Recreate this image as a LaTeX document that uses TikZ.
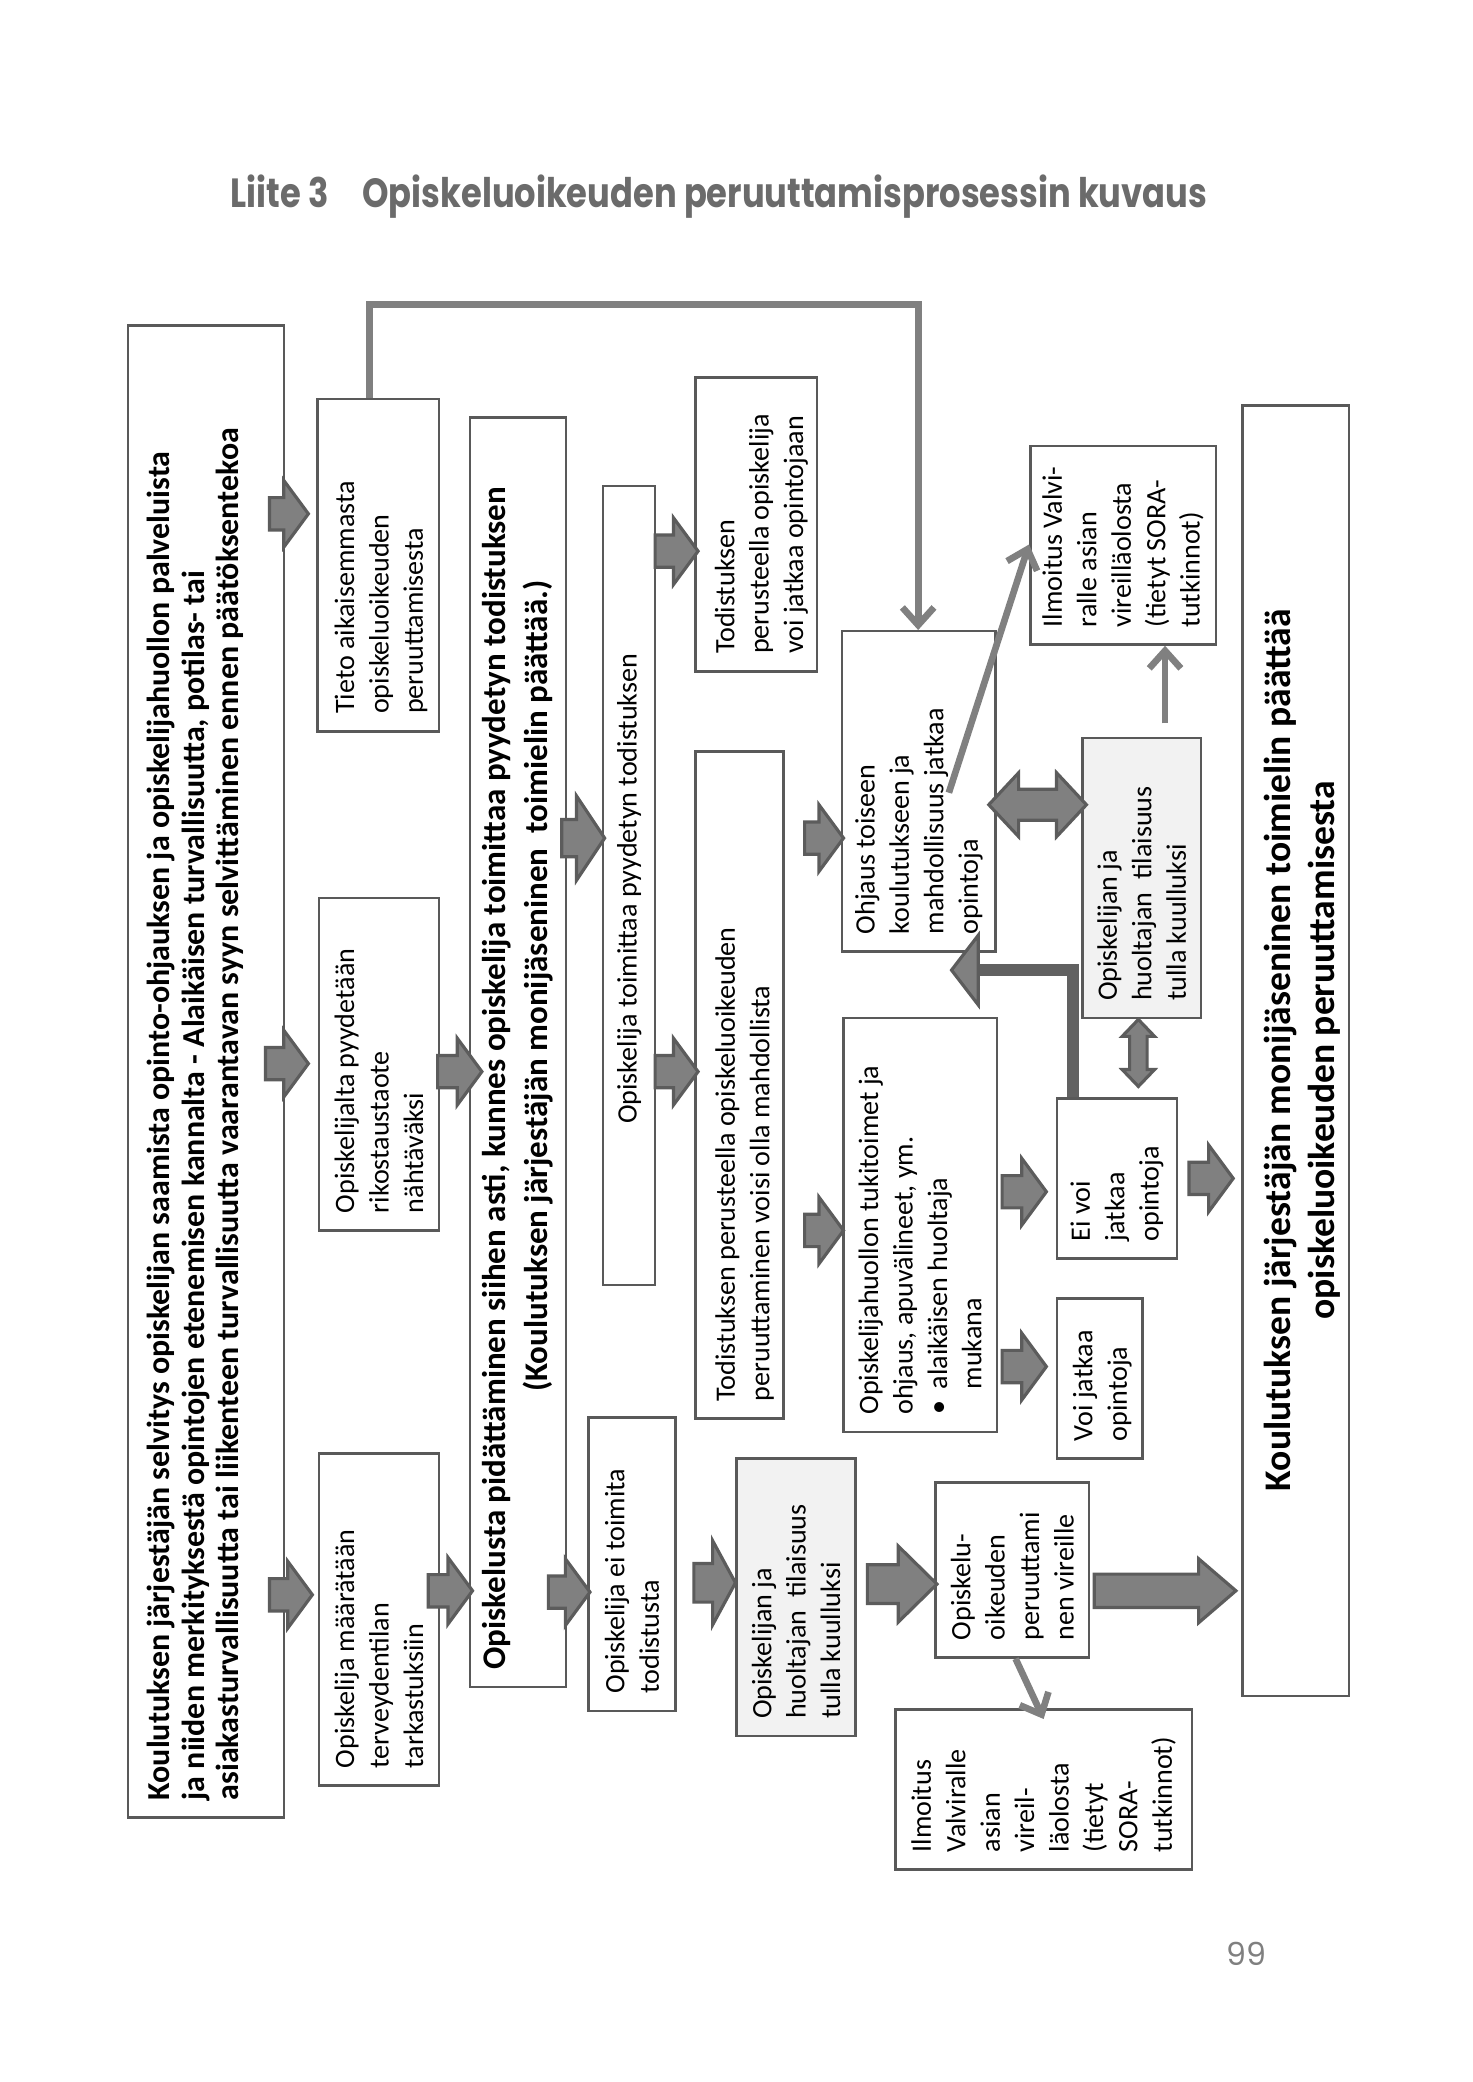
\documentclass[tikz,border=0pt]{standalone}
\usepackage{fontspec}
\setmainfont{Carlito}
\newfontfamily\titlefont{Poppins}
\usetikzlibrary{calc,arrows.meta}
\tikzset{
  box/.style={draw=black!65, line width=0.7pt, fill=white, inner sep=0pt},
  txt/.style={font=\fontsize{8}{9.8}\selectfont},
  blk/.style={fill=black!50, draw=black!64, line width=0.9pt, line join=miter},
  gline/.style={draw=black!50, line width=1.9pt, -{Straight Barb[length=5pt,width=9pt]}},
  elbow/.style={draw=black!62, line width=3.3pt},
}
\newcommand\bxnode[6]{%
  \pgfmathsetlengthmacro\mbW{(#4-#2)*0.0133454cm}%
  \pgfmathsetlengthmacro\mbH{(#5-#3)*0.0133454cm}%
  \node[box,#6,minimum width=\mbW,minimum height=\mbH] (#1) at ({(#2+#4)/2},{(#3+#5)/2}) {};}
\newcommand\mybox[9]{%
  \bxnode{#1}{#2}{#3}{#4}{#5}{#6}%
  \node[txt,rotate=90,anchor=west,align=left,inner sep=0pt,#7] (#1-t) at ({(#2+#4)/2+#8},{#5-12.5}) {#9};}
\newcommand\rarr[5]{%
  \path[blk] let \p1=#1, \p2=#2 in (\x1,{\y1+#3}) -- ({\x2-#5},{\y1+#3}) -- ({\x2-#5},{\y1+#4}) -- (\x2,\y1) -- ({\x2-#5},{\y1-#4}) -- ({\x2-#5},{\y1-#3}) -- (\x1,{\y1-#3}) -- cycle;}
\newcommand\sarr[2]{\rarr{#1}{#2}{4.6pt}{9.5pt}{7pt}}
\newcommand\harr[5]{%
  \path[blk] let \p1=#1, \p2=#2 in (\x1,\y1) -- ({\x1+#5},{\y1+#4}) -- ({\x1+#5},{\y1+#3}) -- ({\x2-#5},{\y1+#3}) -- ({\x2-#5},{\y1+#4}) -- (\x2,\y1) -- ({\x2-#5},{\y1-#4}) -- ({\x2-#5},{\y1-#3}) -- ({\x1+#5},{\y1-#3}) -- ({\x1+#5},{\y1-#4}) -- cycle;}
\newcommand\varr[5]{%
  \path[blk] let \p1=#1, \p2=#2 in (\x1,\y1) -- ({\x1+#4},{\y1-#5}) -- ({\x1+#3},{\y1-#5}) -- ({\x1+#3},{\y2+#5}) -- ({\x1+#4},{\y2+#5}) -- (\x1,\y2) -- ({\x1-#4},{\y2+#5}) -- ({\x1-#3},{\y2+#5}) -- ({\x1-#3},{\y1-#5}) -- ({\x1-#4},{\y1-#5}) -- cycle;}
\begin{document}
\begin{tikzpicture}[x=0.0133454cm,y=-0.0133454cm]
\fill[white] (0,0) rectangle (1103,1560.1);
\useasboundingbox (0,0) rectangle (1103,1560.1);

\node[font=\titlefont\bfseries\fontsize{11.6}{13}\selectfont, text=black!58, anchor=base, inner sep=0pt] (title) at (538.7,155.5)
  {\resizebox{278pt}{\height}{Liite 3\hspace{1.0em}Opiskeluoikeuden peruuttamisprosessin kuvaus}};
\node[font=\titlefont\fontsize{9}{10}\selectfont, text=black!50] (pnum) at (934,1464) {99};

% boxes
\mybox{A}{96}{244}{213}{1362}{}{font=\bfseries\fontsize{9.1}{9.9}\selectfont}{-8}{Koulutuksen järjestäjän selvitys opiskelijan saamista opinto-ohjauksen ja opiskelijahuollon palveluista\\ja niiden merkityksestä opintojen etenemisen kannalta - Alaikäisen turvallisuutta, potilas- tai\\asiakasturvallisuutta tai liikenteen turvallisuutta vaarantavan syyn selvittäminen ennen päätöksentekoa}
\mybox{tieto}{238}{299}{329}{548}{}{}{2}{Tieto aikaisemmasta\\opiskeluoikeuden\\peruuttamisesta}
\mybox{rikos}{239}{673}{329}{922}{}{}{0}{Opiskelijalta pyydetään\\rikostaustaote\\nähtäväksi}
\mybox{terv}{239}{1089}{329}{1338}{}{}{0}{Opiskelija määrätään\\terveydentilan\\tarkastuksiin}
\mybox{B}{352}{313}{424}{1264}{}{font=\bfseries\fontsize{9.4}{12}\selectfont}{0}{Opiskelusta pidättäminen siihen asti, kunnes opiskelija toimittaa pyydetyn todistuksen\\\hspace*{79pt}(Koulutuksen järjestäjän monijäseninen\ \ toimielin päättää.)}
\bxnode{toim}{452}{364}{491}{963}{}
\node[txt,rotate=90,inner sep=0pt] (toim-t) at (471.5,666) {Opiskelija toimittaa pyydetyn todistuksen};
\mybox{eitoim}{441}{1062}{506}{1282}{}{}{0}{Opiskelija ei toimita\\todistusta}
\mybox{voijat}{521}{283}{612}{503}{}{}{4}{Todistuksen\\perusteella opiskelija\\voi jatkaa opintojaan}
\mybox{peru}{521}{563}{587}{1063}{}{}{4}{Todistuksen perusteella opiskeluoikeuden\\peruuttaminen voisi olla mahdollista}
\mybox{kuulA}{552}{1093}{641}{1301}{fill=black!5}{}{0}{Opiskelijan ja\\huoltajan\ \ tilaisuus\\tulla kuulluksi}
\mybox{ohjaus}{631}{473}{746}{713}{}{}{0}{Ohjaus toiseen\\koulutukseen ja\\mahdollisuus jatkaa\\opintoja}
\mybox{tuki}{632}{763}{747}{1073}{}{}{0}{Opiskelijahuollon tukitoimet ja\\ohjaus, apuvälineet, ym.\\•\hspace{3.2pt}alaikäisen huoltaja\\\hspace*{7.2pt}mukana}
\mybox{opoik}{701}{1111}{816}{1242}{}{}{0}{Opiskelu-\\oikeuden\\peruuttami\\nen vireille}
\mybox{ilmA}{671}{1281}{893}{1401}{}{}{0}{Ilmoitus\\Valviralle\\asian\\vireil-\\läolosta\\(tietyt\\SORA-\\tutkinnot)}
\mybox{voi}{792}{973}{856}{1093}{}{}{2}{Voi jatkaa\\opintoja}
\mybox{eivoi}{792}{823}{882}{943}{}{}{0}{Ei voi\\jatkaa\\opintoja}
\mybox{kuulB}{811}{553}{900}{763}{fill=black!5}{}{0}{Opiskelijan ja\\huoltajan\ \ tilaisuus\\tulla kuulluksi}
\mybox{ilmB}{772}{334}{911}{483}{}{}{0}{Ilmoitus Valvi-\\ralle asian\\vireilläolosta\\(tietyt SORA-\\tutkinnot)}
\bxnode{C}{931}{304}{1011}{1271}{}
\node[font=\bfseries\fontsize{10.7}{12.5}\selectfont,rotate=90,align=center,inner sep=0pt] (C-t) at (976,787) {Koulutuksen järjestäjän monijäseninen toimielin päättää\\opiskeluoikeuden peruuttamisesta};

% block arrows
\sarr{($(A.east |- 0,385)+(-12,0)$)}{($(tieto.west |- 0,385)+(-6,0)$)}
\sarr{($(A.east |- 0,797)+(-15,0)$)}{($(rikos.west |- 0,797)+(-7,0)$)}
\sarr{($(A.east |- 0,1195)+(-12,0)$)}{($(terv.west |- 0,1195)+(-4,0)$)}
\sarr{($(rikos.east |- 0,803)+(-2,0)$)}{($(B.west |- 0,803)+(10,0)$)}
\sarr{($(terv.east |- 0,1192)+(-9,0)$)}{($(B.west |- 0,1192)+(3,0)$)}
\rarr{($(B.east |- 0,628)+(-4,0)$)}{($(toim.west |- 0,628)+(2,0)$)}{5.3pt}{12pt}{8pt}
\sarr{($(B.east |- 0,1193)+(-14,0)$)}{($(eitoim.west |- 0,1193)+(2,0)$)}
\sarr{($(toim.east |- 0,413)+(-1,0)$)}{($(voijat.west |- 0,413)+(3,0)$)}
\sarr{($(toim.east |- 0,803)+(-1,0)$)}{($(peru.west |- 0,803)+(3,0)$)}
\rarr{($(eitoim.east |- 0,1186)+(13,0)$)}{(kuulA.west |- 0,1186)}{5.5pt}{12pt}{6.5pt}
\rarr{($(kuulA.east |- 0,1187)+(8,0)$)}{($(opoik.west |- 0,1187)+(2,0)$)}{5.5pt}{10.8pt}{11pt}
\rarr{($(opoik.east |- 0,1192)+(3,0)$)}{($(C.west |- 0,1192)+(-4,0)$)}{4.75pt}{9.1pt}{10.6pt}
\sarr{($(peru.east |- 0,628)+(15,0)$)}{($(ohjaus.west |- 0,628)+(2,0)$)}
\sarr{($(peru.east |- 0,922)+(15,0)$)}{($(tuki.west |- 0,922)+(1,0)$)}
\sarr{($(tuki.east |- 0,893)+(3,0)$)}{($(eivoi.west |- 0,893)+(-7,0)$)}
\sarr{($(tuki.east |- 0,1024)+(3,0)$)}{($(voi.west |- 0,1024)+(-7,0)$)}
\sarr{($(eivoi.east |- 0,883)+(8,0)$)}{($(C.west |- 0,883)+(-6,0)$)}
\harr{($(ohjaus.east |- 0,603)+(-6,0)$)}{($(kuulB.west |- 0,603)+(4,0)$)}{4.4pt}{9.1pt}{8.5pt}
\varr{(kuulB.south -| 853,0)}{($(eivoi.north -| 853,0)+(0,-8)$)}{2.5pt}{4.6pt}{4.8pt}

% elbow arrow from "Ei voi" to "Ohjaus"
\coordinate (elbtip) at ($(ohjaus.south -| 713,0)+(0,13)$);
\draw[elbow] (eivoi.north -| 804,0) |- ($(elbtip)+(19,0)$);
\path[blk] let \p1=(elbtip) in (\x1,\y1) -- ({\x1+7.6pt},{\y1+9.9pt}) -- ({\x1+7.6pt},{\y1-9.9pt}) -- cycle;

% thin grey arrows
\draw[gline] (tieto.north -| 277,0) -- (277,228) -| (ohjaus.north -| 688,0);
\coordinate (ohjstart) at (711,594);
\draw[gline] (ohjstart) -- (ilmB.west |- 0,408);
\draw[gline] ($(kuulB.north -| 873,0)+(0,-10)$) -- (ilmB.south -| 873,0);
\draw[gline] (opoik.south -| 761,0) -- ($(ilmA.north -| 782,0)+(0,8)$);
\end{tikzpicture}
\end{document}
